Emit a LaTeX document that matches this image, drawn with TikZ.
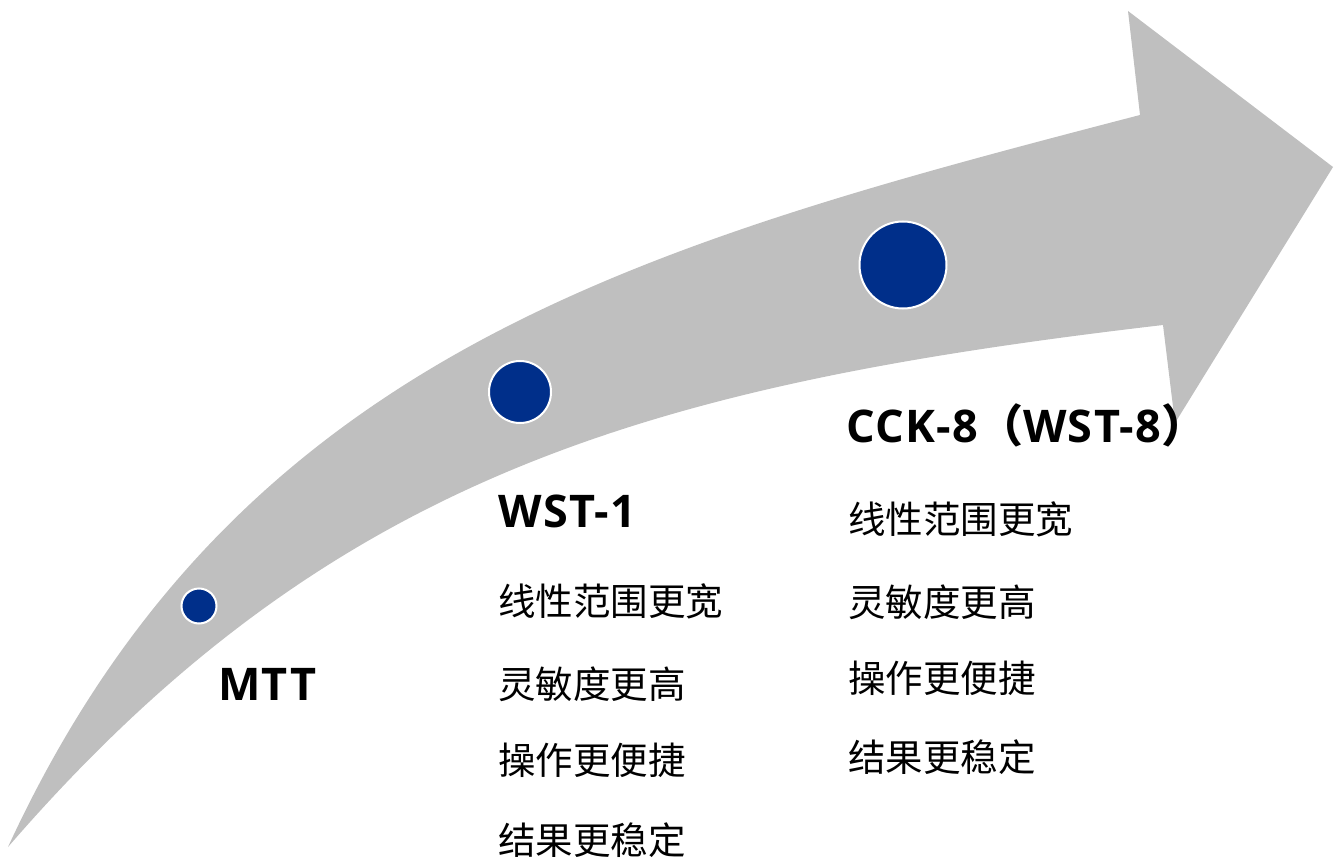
\documentclass[tikz,border=0pt]{standalone}
\usepackage{fontspec}
\newfontfamily\cjk{Noto Sans CJK SC}
\newfontfamily\headfont[LetterSpace=3]{Open Sans}
\definecolor{arrowgray}{HTML}{BFBFBF}
\definecolor{dotblue}{HTML}{002F8A}
\tikzset{
  dot/.style={circle, fill=dotblue, draw=white, line width=2pt, inner sep=0pt},
  heading/.style={anchor=base west, inner sep=0pt, font=\headfont\bfseries\fontsize{45}{45}\selectfont},
  item/.style={anchor=west, inner sep=0pt, font=\cjk\fontsize{37.5}{37.5}\selectfont},
}
\begin{document}
\begin{tikzpicture}[x=1pt,y=-1pt]
\useasboundingbox (0,0) rectangle (1334,861);
% curved arrow
\fill[arrowgray] (8,847) .. controls (235,355) and (640,245) .. (1140,115)
  -- (1128,11) -- (1333,167) -- (1175,423) -- (1163,325)
  .. controls (650,385) and (330,475) .. (8,847) -- cycle;
% dots
\node[dot, minimum size=35pt] (d1) at (199,606) {};
\node[dot, minimum size=62pt] (d2) at (520,392) {};
\node[dot, minimum size=87pt] (d3) at (903,265) {};
% headings
\node[heading] (h1) at (218,700) {MTT};
\node[heading] (h2) at (498,527) {WST-1};
\node[heading] (h3) at (846,442) {CCK-8{\cjk\bfseries （}WST-8{\cjk\bfseries ）}};
% left column
\node[item] (a1) at (498,601) {线性范围更宽};
\node[item] (a2) at (498,684) {灵敏度更高};
\node[item] (a3) at (498,760) {操作更便捷};
\node[item] (a4) at (498,840) {结果更稳定};
% right column
\node[item] (b1) at (848,519) {线性范围更宽};
\node[item] (b2) at (848,602) {灵敏度更高};
\node[item] (b3) at (848,678) {操作更便捷};
\node[item] (b4) at (848,757) {结果更稳定};
\end{tikzpicture}
\end{document}
